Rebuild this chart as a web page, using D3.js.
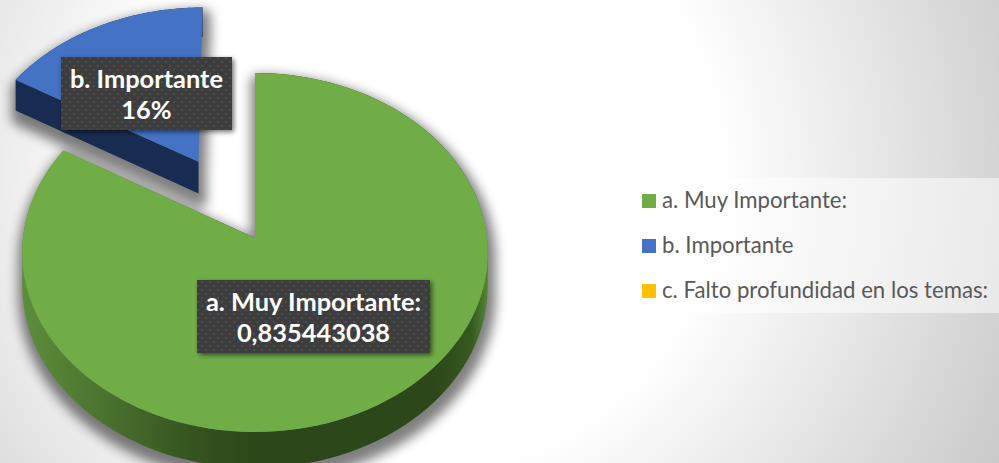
<!DOCTYPE html>
<html>
<head>
<meta charset="utf-8">
<script src="https://cdn.jsdelivr.net/npm/d3@7"></script>
<style>
  html, body {margin: 0; padding: 0; background: #fff; overflow: hidden;}
  text {font-family: Lato, 'Open Sans', sans-serif;}
</style>
</head>
<body>
<svg id="chart" width="999" height="463"></svg>
<script>
var categories = ['a. Muy Importante:', 'b. Importante', 'c. Falto profundidad en los temas:']
var values = [0.835443038, 0.164556962, 0]
var colors = ['#70ad47', '#4472c4', '#ffc000']
var sideColors = ['url(#greenSide)', '#182b50', '#7f6000']
var labelLines = [['a. Muy Importante:', '0,835443038'], ['b. Importante', '16%']]

var svg = d3.select('#chart')
var defs = svg.append('defs')

// page background, white in the middle and grey towards the corners
var bg = defs.append('radialGradient').attr('id', 'bg')
  .attr('gradientUnits', 'userSpaceOnUse')
  .attr('cx', 420).attr('cy', 170).attr('r', 660)
bg.append('stop').attr('offset', 0.45).attr('stop-color', '#fff')
bg.append('stop').attr('offset', 1).attr('stop-color', '#c8c8c8')

var gs = defs.append('linearGradient').attr('id', 'greenSide')
  .attr('gradientUnits', 'userSpaceOnUse')
  .attr('x1', 20).attr('y1', 0).attr('x2', 490).attr('y2', 0)
var sideStops = [[0, '#5d8f3a'], [0.17, '#4c7430'], [0.36, '#35551f'], [0.5, '#2c4719'], [0.88, '#2c4719'], [0.96, '#35591f'], [1, '#5a8a38']]
sideStops.forEach(s => gs.append('stop').attr('offset', s[0]).attr('stop-color', s[1]))

defs.append('filter').attr('id', 'blur')
  .attr('x', '-20%').attr('y', '-20%').attr('width', '140%').attr('height', '140%')
  .append('feGaussianBlur').attr('stdDeviation', 6)

var labelShadow = defs.append('filter').attr('id', 'labelShadow')
  .attr('x', '-10%').attr('y', '-20%').attr('width', '125%').attr('height', '150%')
labelShadow.append('feDropShadow')
  .attr('dx', 2).attr('dy', 2).attr('stdDeviation', 2.5)
  .attr('flood-color', '#000').attr('flood-opacity', 0.55)

var dots = defs.append('pattern').attr('id', 'dots')
  .attr('patternUnits', 'userSpaceOnUse').attr('width', 8).attr('height', 8)
dots.append('rect').attr('width', 8).attr('height', 8).attr('fill', '#3d3d3d')
dots.append('rect').attr('x', 1).attr('y', 1).attr('width', 2).attr('height', 2).attr('fill', '#4e4e4e')
dots.append('rect').attr('x', 5).attr('y', 5).attr('width', 2).attr('height', 2).attr('fill', '#4e4e4e')

svg.append('rect').attr('width', 999).attr('height', 463).attr('fill', 'url(#bg)')

// 3d pie: d3.pie gives the angles, project() tilts the disc with a bit of perspective
var cx = 255, cy = 238, rx = 232, ry = 178.3, persp = 0.0808
var depth = 33, explode = 0.51

function project(u, v, down){
  var w = 1 - persp*v
  return [cx + rx*u/w, cy + ry*v/w + (down || 0)/w]
}

var pie = d3.pie().sort(null).startAngle(0).endAngle(2*Math.PI)
var arcs = pie(values).filter(d => d.value > 0)

function outline(d){
  var mid = (d.startAngle + d.endAngle)/2
  var off = d.index == 1 ? explode : 0
  var du = off*Math.sin(mid), dv = -off*Math.cos(mid)
  var pts = [[du, dv]]
  d3.range(0, 121).forEach(j => {
    var a = d.startAngle + (d.endAngle - d.startAngle)*j/120
    pts.push([du + Math.sin(a), dv - Math.cos(a)])
  })
  return pts
}

var line = d3.line()

function topPath(pts){
  return line(pts.map(p => project(p[0], p[1]))) + 'Z'
}
// extruded wall: one path of quads, all wound the same way so overlaps stay filled.
// the step along the 12 o'clock edge is skipped, that wall faces away
function sidePath(s){
  var pts = s.pts
  return pts.map((p, i) => {
    if (i == s.hiddenStep) return ''
    var q = pts[(i + 1) % pts.length]
    var quad = [project(p[0], p[1]), project(q[0], q[1]), project(q[0], q[1], depth), project(p[0], p[1], depth)]
    if (d3.polygonArea(quad) < 0) quad.reverse()
    return line(quad) + 'Z'
  }).join('')
}

var slices = arcs.map(d => {
  var pts = outline(d)
  return {i: d.index, pts: pts, hiddenStep: d.startAngle == 0 ? 0 : pts.length - 1}
})

svg.append('g').attr('filter', 'url(#blur)').attr('opacity', 0.5)
  .attr('transform', 'translate(2,8)')
  .selectAll('path').data(slices).enter().append('path')
  .attr('d', d => sidePath(d) + topPath(d.pts))
  .attr('fill', '#000').attr('stroke', '#000').attr('stroke-width', 12).attr('stroke-linejoin', 'round')

var sliceG = svg.selectAll('g.slice').data(slices).enter().append('g').attr('class', 'slice')

sliceG.append('path')
  .attr('d', d => sidePath(d))
  .attr('fill', d => sideColors[d.i])

sliceG.append('path')
  .attr('d', d => topPath(d.pts))
  .attr('fill', d => colors[d.i])

// data labels
var labelBoxes = [{x: 197, y: 280, w: 233, h: 73}, {x: 61, y: 57, w: 171, h: 73}]

var labelG = svg.selectAll('g.label').data(labelLines).enter().append('g').attr('class', 'label')

labelG.append('rect')
  .attr('x', (d, i) => labelBoxes[i].x).attr('y', (d, i) => labelBoxes[i].y)
  .attr('width', (d, i) => labelBoxes[i].w).attr('height', (d, i) => labelBoxes[i].h)
  .attr('fill', 'url(#dots)').attr('filter', 'url(#labelShadow)')

labelG.selectAll('text').data((d, i) => d.map((t, j) => ({t, j, box: labelBoxes[i]}))).enter().append('text')
  .attr('x', d => d.box.x + d.box.w/2)
  .attr('y', d => d.box.y + 31 + d.j*31)
  .attr('text-anchor', 'middle')
  .attr('font-size', 25.4).attr('font-weight', 700).attr('fill', '#fff')
  .text(d => d.t)

// legend
svg.append('rect').attr('x', 628).attr('y', 178).attr('width', 371).attr('height', 135)
  .attr('fill', '#fff').attr('fill-opacity', 0.5)

var legendY = d3.scalePoint().domain(categories).range([201, 291])

var legend = svg.selectAll('g.legend').data(categories).enter().append('g').attr('class', 'legend')
  .attr('transform', d => `translate(642,${legendY(d)})`)

legend.append('rect').attr('y', -7).attr('width', 14).attr('height', 14)
  .attr('fill', (d, i) => colors[i])

legend.append('text').attr('x', 20).attr('y', 7)
  .attr('font-size', 22.2).attr('fill', '#595959')
  .text(d => d)
</script>
</body>
</html>
